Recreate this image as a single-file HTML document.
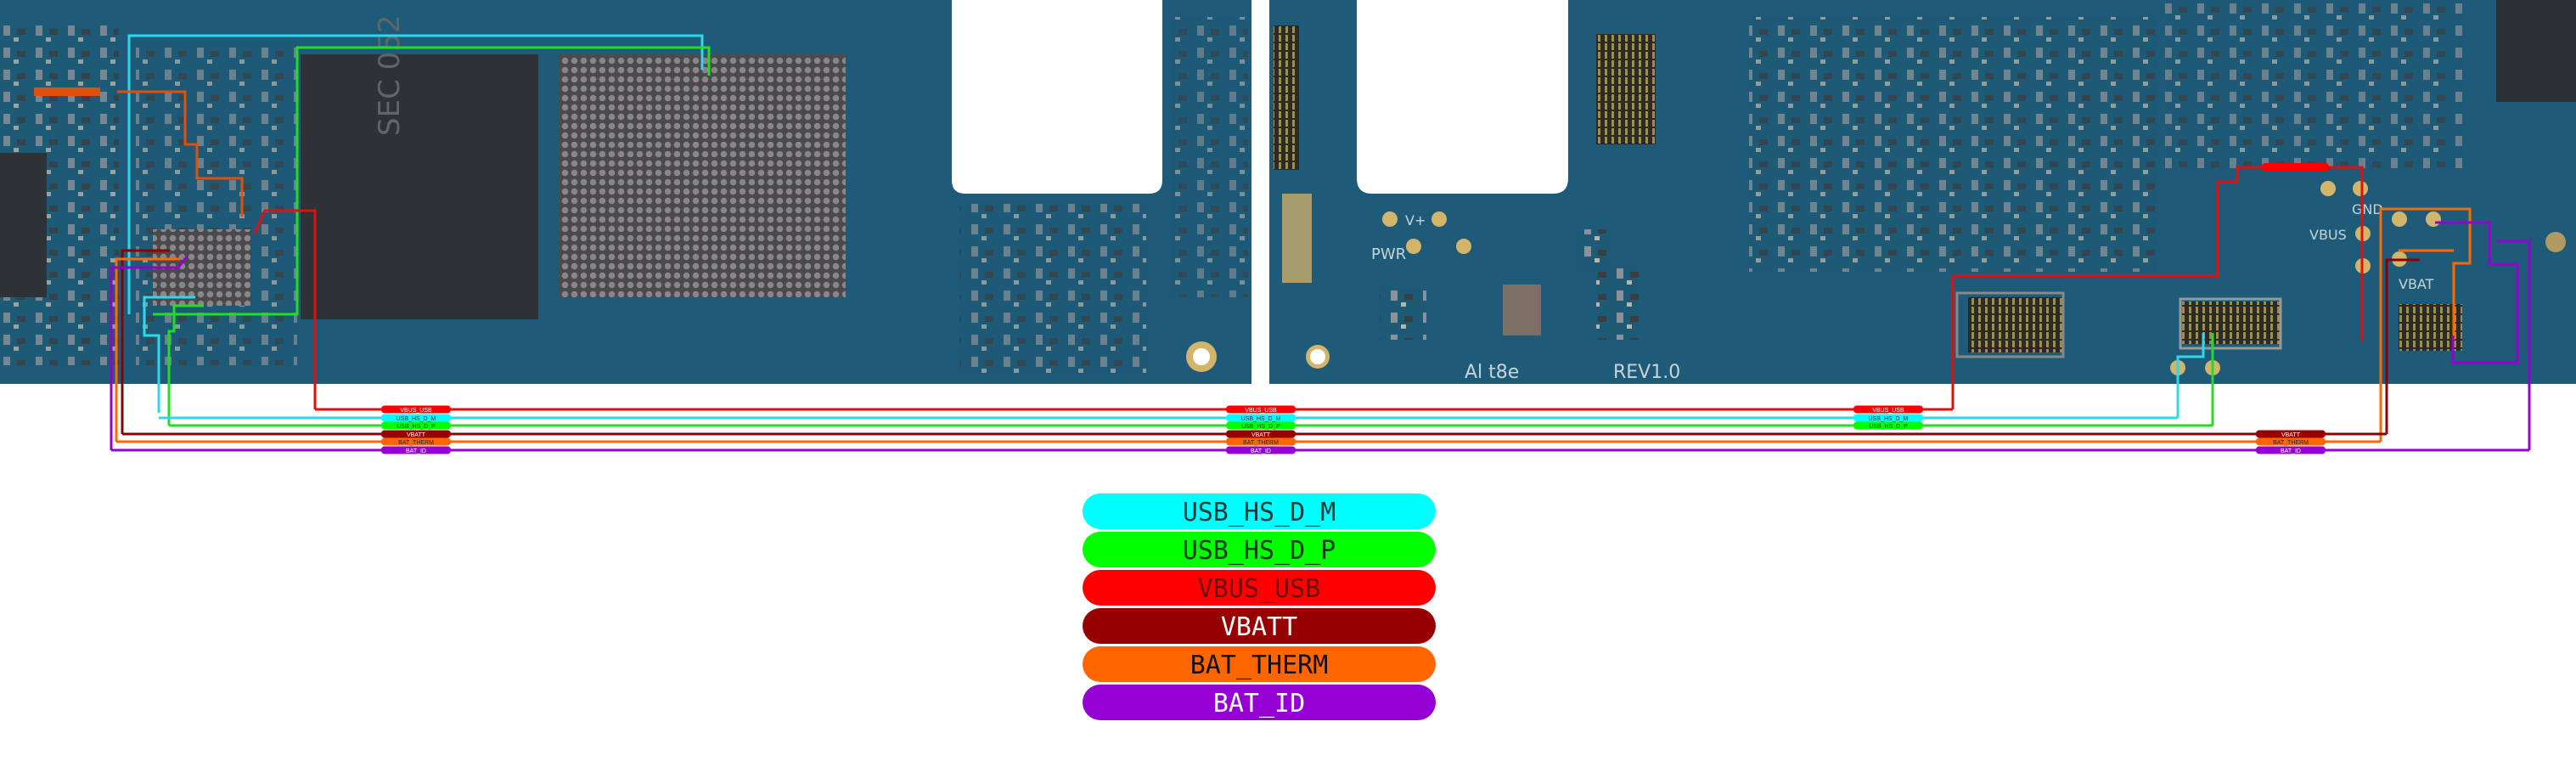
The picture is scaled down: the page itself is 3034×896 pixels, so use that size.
<!DOCTYPE html>
<html><head><meta charset="utf-8"><style>
html,body{margin:0;padding:0;background:#fff;}
svg{display:block;}
.lg{font-family:"DejaVu Sans Mono","Liberation Mono",monospace;font-size:30px;text-anchor:middle;}
.bl{font-family:"Liberation Sans",sans-serif;font-size:7px;text-anchor:middle;fill:#fff;}
.bt{font-family:"DejaVu Sans","Liberation Sans",sans-serif;fill:#c9d3d6;font-size:22px;}
</style></head><body>
<svg width="3034" height="896" viewBox="0 0 3034 896" xmlns="http://www.w3.org/2000/svg">
<defs>
<pattern id="comp" width="38" height="26" patternUnits="userSpaceOnUse">
<rect width="38" height="26" fill="#1d5a76"/>
<rect x="4" y="4" width="8" height="12" fill="#8c9298"/>
<rect x="20" y="8" width="10" height="7" fill="#3a3e42"/>
<rect x="16" y="18" width="6" height="5" fill="#b8b4a8"/>
</pattern>
<pattern id="bga" width="11" height="11" patternUnits="userSpaceOnUse">
<rect width="11" height="11" fill="#4a4a4e"/>
<circle cx="5.5" cy="5.5" r="3.8" fill="#8a8588"/>
</pattern>
<pattern id="conn" width="8" height="10" patternUnits="userSpaceOnUse">
<rect width="8" height="10" fill="#2a2a2c"/>
<rect x="2" y="1" width="3" height="8" fill="#a08a50"/>
</pattern>
</defs>
<rect width="3034" height="896" fill="#fff"/>
<!-- boards -->
<path d="M0,0 H1121 V212 Q1121,228 1137,228 H1353 Q1369,228 1369,212 V0 H1474 V452 H0 Z" fill="#1e5b78"/>
<path d="M1495,0 H1598 V210 Q1598,228 1616,228 H1829 Q1847,228 1847,210 V0 H3034 V452 H1495 Z" fill="#1e5b78"/>
<!-- textured component regions -->
<rect x="0" y="30" width="140" height="400" fill="url(#comp)" opacity="0.8"/>
<rect x="0" y="180" width="55" height="170" fill="#2c3236"/>
<rect x="160" y="50" width="190" height="380" fill="url(#comp)" opacity="0.7"/>
<rect x="1130" y="240" width="220" height="200" fill="url(#comp)" opacity="0.7"/>
<rect x="1380" y="20" width="90" height="330" fill="url(#comp)" opacity="0.6"/>
<rect x="1500" y="30" width="30" height="170" fill="url(#conn)"/>
<rect x="2060" y="20" width="480" height="300" fill="url(#comp)" opacity="0.75"/>
<rect x="2550" y="0" width="350" height="200" fill="url(#comp)" opacity="0.7"/>
<rect x="2940" y="0" width="94" height="120" fill="#2b3034"/>
<rect x="1625" y="340" width="55" height="60" fill="url(#comp)"/>
<rect x="1880" y="40" width="70" height="130" fill="url(#conn)"/>
<rect x="1855" y="270" width="40" height="45" fill="url(#comp)"/>
<rect x="1880" y="310" width="50" height="90" fill="url(#comp)"/>
<rect x="1770" y="335" width="45" height="60" fill="#7b6f66"/>
<rect x="1510" y="228" width="35" height="105" fill="#a79c6e"/>
<!-- big chips -->
<rect x="354" y="64" width="280" height="312" fill="#2f3234"/>
<text x="470" y="160" class="bt" transform="rotate(-90 470 160)" fill="#5f6568" style="fill:#5f6568;font-size:34px">SEC 052</text>
<rect x="658" y="64" width="338" height="286" fill="url(#bga)"/>
<rect x="180" y="270" width="115" height="90" fill="url(#bga)"/>
<!-- right connectors -->
<rect x="2318" y="350" width="112" height="65" fill="url(#conn)"/>
<rect x="2570" y="355" width="115" height="50" fill="url(#conn)"/>
<rect x="2825" y="358" width="75" height="55" fill="url(#conn)"/>
<rect x="2305" y="345" width="125" height="75" fill="none" stroke="#888" stroke-width="3"/>
<rect x="2568" y="352" width="118" height="58" fill="none" stroke="#999" stroke-width="3"/>
<!-- pads -->
<g fill="#d2b46a">
<circle cx="1637" cy="258" r="9"/><circle cx="1695" cy="258" r="9"/><circle cx="1665" cy="290" r="9"/><circle cx="1724" cy="290" r="9"/>
<circle cx="2742" cy="222" r="9"/><circle cx="2780" cy="222" r="9"/><circle cx="2783" cy="275" r="9"/><circle cx="2783" cy="313" r="9"/>
<circle cx="2826" cy="258" r="9"/><circle cx="2866" cy="258" r="9"/><circle cx="2826" cy="305" r="9"/>
<circle cx="2565" cy="433" r="9"/><circle cx="2606" cy="433" r="9"/>
</g>
<circle cx="1415" cy="420" r="18" fill="#d2b46a"/><circle cx="1415" cy="420" r="10" fill="#fff"/>
<circle cx="1552" cy="420" r="14" fill="#d2b46a"/><circle cx="1552" cy="420" r="9" fill="#fff"/>
<circle cx="3010" cy="285" r="12" fill="#b09a60"/>
<!-- board text -->
<text x="1725" y="445" class="bt">Al t8e</text>
<text x="1900" y="445" class="bt">REV1.0</text>
<text x="1615" y="305" class="bt" style="font-size:18px">PWR</text>
<text x="1655" y="265" class="bt" style="font-size:16px">V+</text>
<text x="2770" y="252" class="bt" style="font-size:16px">GND</text>
<text x="2720" y="282" class="bt" style="font-size:16px">VBUS</text>
<text x="2825" y="340" class="bt" style="font-size:16px">VBAT</text>
<!-- left traces -->
<g fill="none" stroke-width="3">
<polyline points="152,370 152,42 827,42 827,82" stroke="#2fd8e8"/>
<polyline points="180,370 350,370 350,56 835,56 835,89" stroke="#22dd22"/>
<polyline points="371,482 371,248 312,248 300,275" stroke="#e01010"/>
<polyline points="187,486 187,395 170,395 170,350 230,350" stroke="#2fd8e8"/>
<polyline points="199,501 199,390 205,390 205,360 240,360" stroke="#22dd22"/>
<polyline points="144,511 144,295 200,295" stroke="#8b0000"/>
<polyline points="137,520 137,305 212,305" stroke="#ff6a00"/>
<polyline points="131,530 131,315 210,315 220,302" stroke="#9400cc"/>
<polyline points="138,108 218,108 218,170 232,170 232,210 285,210 285,255" stroke="#e0500a"/>
<rect x="40" y="103" width="78" height="10" fill="#e0500a" stroke="none"/>
</g>
<!-- right traces -->
<g fill="none" stroke-width="3">
<polyline points="2300,482 2300,325 2612,325 2612,214 2635,214 2635,197 2782,197 2782,402" stroke="#e01010"/>
<polyline points="2565,492 2565,420 2595,420 2595,392" stroke="#2fd8e8"/>
<polyline points="2606,501 2606,392" stroke="#22dd22"/>
<polyline points="2811,511 2811,306 2850,306" stroke="#8b0000"/>
<polyline points="2804,520 2804,246 2909,246 2909,310 2890,310 2890,400" stroke="#ff6a00"/>
<polyline points="2825,295 2890,295 M2845,262 2845,310" stroke="#ff6a00"/>
<polyline points="2979,530 2979,284 2940,284" stroke="#9400cc"/>
<polyline points="2868,262 2932,262 2932,311 2965,311 2965,427 2889,427 2889,395" stroke="#9400cc"/>
</g>
<rect x="2664" y="192" width="79" height="10" rx="4" fill="#ff0000"/>
<!-- bus lines -->
<g stroke-width="3">
<line x1="371" y1="482" x2="2300" y2="482" stroke="#e01010"/>
<line x1="187" y1="492" x2="2565" y2="492" stroke="#2fd8e8"/>
<line x1="199" y1="501" x2="2606" y2="501" stroke="#22dd22"/>
<line x1="144" y1="511" x2="2811" y2="511" stroke="#8b0000"/>
<line x1="137" y1="520" x2="2804" y2="520" stroke="#ff6a00"/>
<line x1="131" y1="530" x2="2979" y2="530" stroke="#9400cc"/>
</g>
<!-- bus labels -->
<g>
<g id="six">
<rect x="449" y="477.5" width="82" height="9" rx="4" fill="#ff0000"/><text x="490" y="485" class="bl">VBUS_USB</text>
<rect x="449" y="487.5" width="82" height="9" rx="4" fill="#00ffff"/><text x="490" y="495" class="bl" fill="#333" style="fill:#333">USB_HS_D_M</text>
<rect x="449" y="496.5" width="82" height="9" rx="4" fill="#00ff00"/><text x="490" y="504" class="bl" style="fill:#333">USB_HS_D_P</text>
<rect x="449" y="506.5" width="82" height="9" rx="4" fill="#960000"/><text x="490" y="514" class="bl">VBATT</text>
<rect x="449" y="515.5" width="82" height="9" rx="4" fill="#ff6600"/><text x="490" y="523" class="bl" style="fill:#222">BAT_THERM</text>
<rect x="449" y="525.5" width="82" height="9" rx="4" fill="#9400d3"/><text x="490" y="533" class="bl">BAT_ID</text>
</g>
<use href="#six" x="995"/>
<rect x="2183" y="477.5" width="82" height="9" rx="4" fill="#ff0000"/><text x="2224" y="485" class="bl">VBUS_USB</text>
<rect x="2183" y="487.5" width="82" height="9" rx="4" fill="#00ffff"/><text x="2224" y="495" class="bl" style="fill:#333">USB_HS_D_M</text>
<rect x="2183" y="496.5" width="82" height="9" rx="4" fill="#00ff00"/><text x="2224" y="504" class="bl" style="fill:#333">USB_HS_D_P</text>
<rect x="2657" y="506.5" width="82" height="9" rx="4" fill="#960000"/><text x="2698" y="514" class="bl">VBATT</text>
<rect x="2657" y="515.5" width="82" height="9" rx="4" fill="#ff6600"/><text x="2698" y="523" class="bl" style="fill:#222">BAT_THERM</text>
<rect x="2657" y="525.5" width="82" height="9" rx="4" fill="#9400d3"/><text x="2698" y="533" class="bl">BAT_ID</text>
</g>
<!-- legend -->
<rect x="1275" y="581" width="416" height="42" rx="21" fill="#00ffff"/><text x="1483" y="613" class="lg" fill="#0a3a3a">USB_HS_D_M</text>
<rect x="1275" y="626" width="416" height="42" rx="21" fill="#00ff00"/><text x="1483" y="658" class="lg" fill="#0a3a0a">USB_HS_D_P</text>
<rect x="1275" y="671" width="416" height="42" rx="21" fill="#ff0000"/><text x="1483" y="703" class="lg" fill="#6a0a0a">VBUS_USB</text>
<rect x="1275" y="716" width="416" height="42" rx="21" fill="#960000"/><text x="1483" y="748" class="lg" fill="#ffffff">VBATT</text>
<rect x="1275" y="761" width="416" height="42" rx="21" fill="#ff6600"/><text x="1483" y="793" class="lg" fill="#111">BAT_THERM</text>
<rect x="1275" y="806" width="416" height="42" rx="21" fill="#9400d3"/><text x="1483" y="838" class="lg" fill="#ffffff">BAT_ID</text>
</svg>
</body></html>
